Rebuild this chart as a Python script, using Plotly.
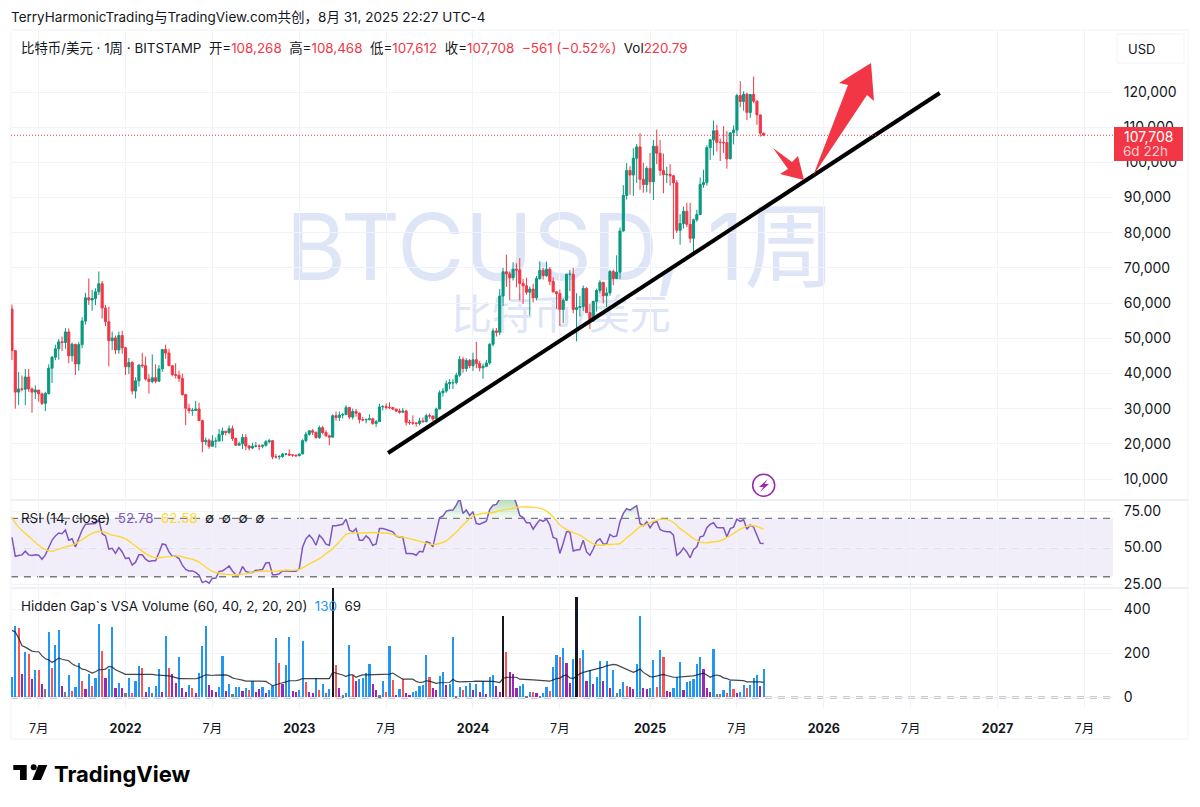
import numpy as np
import pandas as pd
import plotly.graph_objects as go

# weekly bars, prices in thousands of USD
dates = pd.date_range("2021-05-10", periods=226, freq="7D")

opens = [
    58.3, 46.5, 34.7, 35.6, 35.5, 39.0, 35.6, 34.7, 35.3, 34.2, 31.5, 34.3, 41.5, 44.6, 47.0, 49.0, 48.8,
    51.8, 45.0, 48.3, 42.7, 48.2, 54.9, 61.5, 60.9, 61.3, 63.2, 65.5, 58.6, 54.7, 49.3, 50.1, 46.7, 50.8,
    47.3, 41.9, 43.1, 35.0, 37.9, 42.4, 42.2, 38.4, 37.7, 38.8, 37.8, 41.3, 46.8, 45.8, 42.2, 39.7, 39.5,
    38.6, 34.0, 30.1, 29.4, 29.5, 29.9, 26.6, 20.6, 21.0, 19.3, 20.8, 20.8, 22.6, 23.6, 23.2, 24.3, 21.5,
    19.6, 20.0, 21.8, 19.4, 18.8, 19.3, 19.4, 19.3, 19.6, 20.6, 20.9, 16.3, 16.3, 16.4, 17.1, 17.1, 16.8, 16.8,
    16.6, 17.1, 20.9, 22.7, 23.7, 23.3, 21.8, 24.6, 23.2, 22.3, 21.9, 28.0, 27.5, 28.2, 28.3, 30.3, 27.6,
    29.2, 28.7, 26.9, 26.8, 26.9, 27.1, 25.8, 26.3, 30.5, 30.6, 30.3, 30.3, 29.9, 29.3, 29.0, 29.3, 26.1,
    26.0, 25.9, 25.8, 26.5, 26.3, 28.0, 27.9, 27.1, 29.9, 34.5, 35.0, 37.1, 37.4, 37.4, 39.5, 44.0, 41.4, 43.7,
    42.2, 43.9, 42.8, 41.6, 42.0, 43.0, 48.3, 52.1, 51.7, 62.0, 68.9, 68.3, 67.2, 69.6, 69.4, 65.6, 64.9,
    63.1, 64.0, 61.5, 67.0, 69.3, 67.8, 69.6, 66.2, 63.2, 62.7, 58.2, 60.8, 68.2, 68.2, 58.2, 58.7, 59.0,
    64.2, 57.3, 54.9, 60.5, 63.6, 65.9, 62.1, 62.9, 69.0, 67.0, 68.8, 80.5, 90.6, 97.7, 96.4, 101.2, 104.4,
    95.2, 93.7,
    98.3, 94.5, 104.6, 102.6, 97.7, 96.5, 96.6, 96.2, 94.2, 80.7, 82.6, 86.1, 82.4, 78.4, 83.7, 85.2, 93.7,
    94.3, 104.2, 106.4, 109.0, 105.7, 105.7, 105.6, 101.0, 108.4, 109.2, 119.0, 117.3, 119.4, 114.2, 119.3,
    117.4, 113.5, 108.268,
]
highs = [
    59.6, 46.6, 40.4, 39.4, 41.3, 41.3, 36.0, 36.6, 35.1, 34.6, 34.8, 42.6, 45.0, 48.2, 49.8, 50.5, 52.9,
    52.8, 48.8, 48.4, 49.0, 56.0, 62.9, 67.0, 63.7, 64.2, 69.0, 66.3, 59.5, 59.0, 51.9, 50.8, 51.9, 52.1,
    47.6, 44.4, 43.5, 38.9, 42.6, 45.9, 44.8, 39.8, 45.4, 42.6, 42.4, 47.0, 48.2, 47.0, 42.4, 42.9, 40.8,
    40.0, 34.2, 31.4, 30.2, 32.2, 31.7, 26.9, 21.8, 21.5, 22.5, 21.8, 24.2, 24.6, 23.6, 25.2, 25.2, 21.8,
    20.6, 22.8, 22.8, 19.7, 20.3, 20.5, 19.9, 19.7, 21.1, 21.4, 21.0, 17.1, 16.8, 17.4, 17.4, 18.4, 17.0, 16.9,
    17.2, 21.3, 23.4, 23.9, 24.2, 23.4, 25.2, 25.1, 23.9, 22.6, 28.4, 29.2, 29.2, 28.8, 31.0, 30.5, 30.0,
    29.9, 28.9, 27.6, 27.2, 28.4, 27.4, 26.8, 31.4, 31.0, 31.5, 31.8, 30.4, 29.9, 30.0, 30.2, 29.7, 26.8,
    28.1, 26.2, 27.4, 27.5, 28.6, 28.6, 28.0, 30.3, 35.2, 35.9, 38.0, 38.4, 38.4, 40.2, 45.0, 44.7, 44.3, 44.1,
    45.9, 49.0, 43.6, 42.8, 43.8, 48.6, 52.8, 52.9, 64.0, 70.0, 73.8, 68.9, 71.6, 71.3, 72.8, 66.9, 67.2,
    64.7, 65.5, 67.7, 71.9, 70.0, 71.8, 70.2, 67.3, 63.4, 63.8, 61.3, 68.3, 69.4, 70.0, 62.8, 62.0, 65.0,
    64.5, 59.8, 60.6, 64.1, 66.5, 66.0, 64.5, 69.4, 69.5, 73.6, 81.5, 93.5, 99.8, 98.9, 104.0, 105.2, 108.3,
    99.9, 98.9,
    102.7, 106.4, 109.3, 106.4, 102.5, 98.8, 99.5, 96.5, 95.0, 85.3, 87.4, 88.5, 88.5, 84.0, 86.5, 95.7, 97.9,
    104.9, 106.7, 111.9, 110.7, 106.8, 110.3, 108.9, 108.5, 110.5, 119.5, 123.1, 120.2, 119.8, 119.3, 124.4,
    117.6, 113.5, 108.468,
]
lows = [
    43.8, 30.0, 31.0, 34.9, 31.0, 34.8, 28.8, 32.7, 32.0, 31.0, 29.3, 34.0, 37.3, 43.8, 43.9, 46.4, 47.0,
    42.9, 43.4, 39.6, 40.8, 47.2, 53.9, 59.5, 57.8, 59.4, 62.3, 55.6, 53.5, 42.0, 46.7, 45.5, 45.6, 45.6,
    39.6, 39.8, 34.0, 32.9, 36.3, 41.6, 38.0, 34.3, 37.2, 37.2, 37.6, 40.5, 44.2, 42.1, 39.2, 38.6, 37.6,
    33.7, 25.3, 28.6, 28.0, 29.3, 26.7, 17.6, 19.6, 18.6, 19.3, 18.9, 20.7, 20.7, 22.4, 22.7, 20.8, 19.5,
    19.5, 18.5, 18.2, 18.1, 18.5, 19.0, 18.2, 18.7, 19.2, 20.1, 15.6, 15.8, 15.5, 16.0, 16.7, 16.5, 16.3, 16.3,
    16.5, 17.1, 20.4, 22.3, 22.5, 21.4, 21.4, 22.7, 21.9, 19.6, 21.8, 26.6, 26.5, 27.2, 28.2, 27.1, 26.9,
    27.7, 25.8, 26.4, 25.8, 26.6, 25.4, 24.8, 26.3, 29.5, 29.7, 29.9, 29.6, 29.0, 28.6, 28.7, 25.2, 25.4,
    25.4, 24.9, 25.2, 26.0, 26.1, 27.2, 26.5, 27.0, 29.8, 33.4, 34.5, 35.5, 35.6, 36.9, 39.0, 40.2, 40.5, 41.5,
    40.7, 41.5, 40.6, 38.5, 41.8, 42.5, 47.7, 50.5, 50.9, 59.2, 64.6, 60.8, 66.4, 64.5, 60.7, 59.7, 62.4,
    56.5, 60.2, 60.8, 66.6, 66.7, 67.5, 65.1, 63.0, 58.4, 53.5, 54.3, 60.7, 63.4, 57.1, 49.1, 56.2, 57.8,
    57.2, 52.6, 54.7, 57.6, 62.7, 59.9, 58.9, 62.1, 65.1, 66.8, 66.8, 80.3, 89.4, 90.8, 90.5, 94.2, 92.2,
    91.4, 91.5,
    91.2, 89.3, 99.5, 96.2, 91.2, 94.1, 93.4, 78.2, 80.0, 76.6, 81.2, 81.6, 77.1, 74.5, 83.1, 85.0, 92.8,
    93.4, 100.7, 102.0, 103.1, 100.4, 102.7, 98.2, 100.9, 105.1, 107.5, 115.7, 114.7, 112.0, 112.7, 116.8,
    110.7, 107.3, 107.612,
]
closes = [
    46.5, 34.7, 35.6, 35.5, 39.0, 35.6, 34.7, 35.3, 34.2, 31.5, 34.3, 41.5, 44.6, 47.0, 49.0, 48.8, 51.8,
    45.0, 48.3, 42.7, 48.2, 54.9, 61.5, 60.9, 61.3, 63.2, 65.5, 58.6, 54.7, 49.3, 50.1, 46.7, 50.8, 47.3,
    41.9, 43.1, 35.0, 37.9, 42.4, 42.2, 38.4, 37.7, 38.8, 37.8, 41.3, 46.8, 45.8, 42.2, 39.7, 39.5, 38.6,
    34.0, 30.1, 29.4, 29.5, 29.9, 26.6, 20.6, 21.0, 19.3, 20.8, 20.8, 22.6, 23.6, 23.2, 24.3, 21.5, 19.6,
    20.0, 21.8, 19.4, 18.8, 19.3, 19.4, 19.3, 19.6, 20.6, 20.9, 16.3, 16.3, 16.4, 17.1, 17.1, 16.8, 16.8, 16.6,
    17.1, 20.9, 22.7, 23.7, 23.3, 21.8, 24.6, 23.2, 22.3, 21.9, 28.0, 27.5, 28.2, 28.3, 30.3, 27.6, 29.2,
    28.7, 26.9, 26.8, 26.9, 27.1, 25.8, 26.3, 30.5, 30.6, 30.3, 30.3, 29.9, 29.3, 29.0, 29.3, 26.1, 26.0,
    25.9, 25.8, 26.5, 26.3, 28.0, 27.9, 27.1, 29.9, 34.5, 35.0, 37.1, 37.4, 37.4, 39.5, 44.0, 41.4, 43.7, 42.2,
    43.9, 42.8, 41.6, 42.0, 43.0, 48.3, 52.1, 51.7, 62.0, 68.9, 68.3, 67.2, 69.6, 69.4, 65.6, 64.9, 63.1,
    64.0, 61.5, 67.0, 69.3, 67.8, 69.6, 66.2, 63.2, 62.7, 58.2, 60.8, 68.2, 68.2, 58.2, 58.7, 59.0, 64.2,
    57.3, 54.9, 60.5, 63.6, 65.9, 62.1, 62.9, 69.0, 67.0, 68.8, 80.5, 90.6, 97.7, 96.4, 101.2, 104.4, 95.2,
    93.7, 98.3,
    94.5, 104.6, 102.6, 97.7, 96.5, 96.6, 96.2, 94.2, 80.7, 82.6, 86.1, 82.4, 78.4, 83.7, 85.2, 93.7, 94.3,
    104.2, 106.4, 109.0, 105.7, 105.7, 105.6, 101.0, 108.4, 109.2, 119.0, 117.3, 119.4, 114.2, 119.3, 117.4,
    113.5, 108.3, 107.708,
]

rsi = [
    57, 44, 44.5, 45, 47.5, 45, 44.5, 45, 44.7, 42, 45, 50.5, 55, 58, 60, 59.5, 62, 55, 56, 50.5, 57, 62, 66, 66, 66,
    66.5, 69, 59.5, 58, 49, 49.5, 46, 50, 47, 42.5, 43, 38, 40, 45, 45, 42, 40.5, 41, 41, 46.5, 52.5, 52, 47, 44,
    44, 42.5, 38, 35, 34, 34, 33, 31, 26, 27, 25.6, 29, 29, 33.7, 34, 35.5, 37.4, 34, 31.4, 31.6, 37, 33.7, 33, 33,
    34.4, 34.6, 35, 39.4, 39.7, 31.4, 31.4, 32, 34, 34, 33.7, 33.7, 33.7, 35.5, 50.5, 56, 58.5, 56, 51.6, 58.5, 56,
    52.3, 51.6, 65, 65, 65.4, 66, 69.5, 62, 60.8, 63, 55, 55, 58, 56, 51.6, 52.5, 63, 63, 62.4, 61.7, 60.8, 58, 57,
    57, 46, 45.9, 45.7, 44.7, 47.5, 47, 54, 53.4, 50.5, 60.8, 70.5, 71.6, 75, 75.5, 75.7, 79, 84, 73.4, 75.7, 72,
    74.6, 66.5, 66, 67, 68, 76, 79, 79.6, 84, 87, 88, 87, 86, 80, 72, 70.5, 67, 67, 62.6, 66, 69, 68, 69.5, 65.4,
    57, 56, 46, 53, 60.8, 60.8, 47.7, 48.4, 48.6, 55, 47, 44.7, 49, 54.4, 56, 52.5, 52.5, 59, 57.4, 58, 67.7, 73.4,
    76.7, 75.7, 77, 78.7, 66.5, 65, 67.7, 63.6, 67, 68, 62.4, 61.3, 60.8, 60.8, 58.5, 44.7, 46.5, 49.8, 47, 43,
    48.6, 50.5, 57.4, 58, 63.6, 65.9, 67, 63.8, 63.6, 63.6, 57.4, 63, 64, 69.5, 68, 69, 62.6, 65.4, 64, 59, 53, 52.78,
]
# read every second bar, last value from the legend
rsi_ma = [
    70.5, 64, 59.7, 55.7, 51.6, 48.6, 47.5, 49, 50.5, 51.6, 54, 57, 59.7, 61, 60.3, 58.5, 57.6, 56, 52.8, 49.3,
    45.9, 43.6, 43, 43.6, 44, 44.3, 43, 42, 40, 36.7, 33.7, 32.5, 31.6, 31.4, 31.6, 32, 33.2, 33.7, 34, 33.8, 34,
    34.6, 34.4, 35, 37.4, 40, 42.4, 45.9, 49.3, 54, 59, 60, 60, 60, 60.3, 60, 60, 59, 57.4,
    56.7, 55.5, 54.4, 53, 52, 52.8, 54.6, 58.5, 63, 67.7, 71.6, 73, 73.7, 74, 75.3, 76.2, 76.9, 77.8, 77.8, 77.6,
    77, 75, 71, 65.4, 62.4, 60.3, 58.5, 55.5, 52.5, 51.6, 52, 52.3, 52.8, 56.7, 60.3, 64.3, 65.9, 68, 69.3, 69.3,
    67.2, 63, 59.7, 56.2, 53.9, 53.2, 54, 54.6, 56.9, 59.7, 62.6, 64.7, 65, 63.6, 62.58,
]

volumes = [
    95, 326, 315, 106, 209, 198, 85, 126, 126, 59, 38, 298, 136, 238, 309, 53, 24, 100, 30, 47, 159, 77, 38, 108, 50,
    88, 332, 210, 89, 130, 320, 44, 67, 42, 20, 89, 21, 76, 144, 133, 26, 47, 18, 53, 130, 26, 280, 135, 106, 65, 185,
    42, 27, 55, 41, 21, 112, 235, 324, 58, 35, 27, 47, 188, 30, 61, 17, 48, 48, 30, 42, 32, 76, 27, 38, 47, 20, 32,
    50, 271, 158, 59, 148, 276, 30, 24, 32, 256, 71, 23, 21, 89, 32, 62, 18, 38, 520, 147, 42, 9, 18, 239, 103, 77,
    83, 88, 110, 153, 62, 33, 9, 77, 24, 232, 79, 12, 40,
    83, 20, 11, 24, 30, 53, 56, 194, 92, 41, 33, 97, 115, 56, 62, 274, 6, 48, 35, 50, 68, 35, 59, 26, 73, 17, 92, 100,
    53, 24, 371, 208, 118, 105, 44, 50, 62, 6, 27, 24, 18, 6, 21, 47, 30, 138, 194, 185, 224, 159, 67, 176, 456, 179,
    217, 77, 126, 62, 91, 164, 73, 167, 41, 124, 21, 39, 70, 53, 47, 39, 150, 370, 42, 38, 44, 171, 48, 217, 182, 30,
    24, 42, 92, 162, 35, 70, 76, 86, 152, 185, 129, 44, 27, 220, 14, 14, 32, 21, 77, 38, 21, 26, 56, 45, 58, 88, 103,
    50, 130,
]
# b blue, r red, p purple, g gray, k black, ten bars per chunk
volume_kinds = (
    "bbrpbrpbrp" "gbrbbpgbrb" "brpbrbbrpb" "bpbpgbrbbr" "pbgbbpbrpp" "bppbrpbbbp" "ppbbpbgbbp" "brbppbpbbb"
    "rpbbppbbrp" "pbrbgbkrpg" "bbrpbbbbpp" "gbrbrpbrpp" "bbbbbrppbb" "pbbgbrbbpb" "pbpbbppkrp" "ppbbgbrpgb"
    "brbbrbppbk" "rbpbpbbpbp" "bgbbrppbbp" "pbbrbrppbb" "bpbbbbbppp" "bggbrbrpbb" "rbbbpb"
)
volume_ma = [
    305, 298, 270, 235, 229, 220, 211, 208, 208, 189, 176, 171, 159, 168, 179, 174, 170, 167, 153, 144, 141, 129, 126,
    120, 111, 117, 126, 126, 129, 141, 138, 126, 118, 111, 105, 105, 105, 108, 108, 108, 106, 106, 105, 103, 102, 102,
    100, 98, 95, 91, 86, 86, 85, 85, 85, 85, 89, 95, 103, 102, 100, 102, 102, 102, 103, 98, 89, 85, 83, 79, 74, 73, 74,
    74, 74, 74, 73, 64, 53, 58, 64, 67, 71, 76, 76, 76, 80, 86, 86, 86, 86, 86, 86, 86, 86, 86, 115, 111, 106, 102, 95,
    103, 103, 92, 98, 103, 103, 103, 103, 103, 103, 103, 103, 106, 111, 103, 92,
    83, 83, 83, 83, 73, 68, 70, 76, 74, 68, 64, 67, 67, 68, 68, 83, 73, 71, 71, 70, 70, 73, 74, 74, 76, 76, 76, 73, 71,
    68, 86, 91, 92, 92, 92, 83, 83, 83, 82, 80, 79, 77, 76, 76, 74, 80, 86, 88, 98, 103, 89, 86, 98, 108, 114, 118, 121,
    124, 129, 133, 138, 144, 147, 150, 148, 141, 135, 129, 123, 114, 121, 129, 114, 103, 95, 94, 98, 100, 105, 100, 95,
    92, 92, 94, 95, 95, 97, 98, 103, 108, 111, 102, 92, 100, 102, 98, 89, 86, 79, 79, 79, 77, 77, 71, 71, 71, 73, 71, 69,
]

trend_dates = ["2023-07-07", "2026-09-05"]
trend_prices = [17390, 119720]

price_ticks = [10000 * i for i in range(1, 13)]
rsi_ticks = [25, 50, 75]
rsi_tick_labels = ["25.00", "50.00", "75.00"]
volume_ticks = [0, 200, 400]
x_ticks = ["2021-07-05", "2022-01-03", "2022-07-04", "2023-01-02", "2023-07-03", "2024-01-01", "2024-07-01",
           "2025-01-06", "2025-07-07", "2026-01-05", "2026-07-06", "2027-01-04", "2027-07-05"]
x_tick_labels = ["7月", "<b>2022</b>", "7月", "<b>2023</b>", "7月", "<b>2024</b>", "7月",
                 "<b>2025</b>", "7月", "<b>2026</b>", "7月", "<b>2027</b>", "7月"]

assert len(opens) == len(highs) == len(lows) == len(closes), (len(opens), len(highs), len(lows), len(closes))
assert len(rsi) == 226, len(rsi)
assert len(volumes) == len(volume_kinds) == 226, (len(volumes), len(volume_kinds))
assert len(volume_ma) == 226, len(volume_ma)

FONT = "Inter, 'Noto Sans CJK SC', sans-serif"
INK = "#131722"
GREEN = "#089981"
RED = "#F23645"
GRID = "#F0F3FA"
PURPLE = "#7E57C2"
YELLOW = "#FDD835"
KIND_COLORS = {"b": "#2196F3", "r": "#FF5252", "p": "#9C27B0", "g": "#787B86", "k": "#131722"}
GAP = "\u00a0\u00a0"


def px(x):
    return x / 1200


def py(y):
    return 1 - y / 807


x_range = ["2021-05-08", "2027-09-03"]
week_ms = 7 * 24 * 3600 * 1000
opens, highs, lows, closes = [np.array(a) * 1000 for a in (opens, highs, lows, closes)]
last_close = closes[-1]
rsi = np.array(rsi, dtype=float)

fig = go.Figure()

# first subplot only holds the watermark, so everything else is drawn over it
fig.add_trace(go.Scatter(
    x=[0.499, 0.499], y=[0.517, 0.385], mode="text", text=["BTCUSD, 1周", "比特币/美元"],
    textfont=dict(size=[92, 41], color="#DEE5F7", family=FONT),
    xaxis="x", yaxis="y", hoverinfo="skip",
))
fig.add_trace(go.Candlestick(
    x=dates, open=opens, high=highs, low=lows, close=closes, xaxis="x2", yaxis="y2",
    increasing=dict(line=dict(color=GREEN, width=1), fillcolor=GREEN),
    decreasing=dict(line=dict(color=RED, width=1), fillcolor=RED),
    whiskerwidth=0,
))
fig.add_trace(go.Scatter(
    x=trend_dates, y=trend_prices, mode="lines", line=dict(color="#000000", width=4),
    xaxis="x2", yaxis="y2",
))

# rsi panel
fig.add_trace(go.Scatter(
    x=dates, y=np.full(len(rsi), 70.0), mode="lines", line=dict(width=0),
    xaxis="x3", yaxis="y3", hoverinfo="skip",
))
fig.add_trace(go.Scatter(
    x=dates, y=np.maximum(rsi, 70), mode="lines", line=dict(width=0), fill="tonexty",
    fillgradient=dict(type="vertical", start=70, stop=83,
                      colorscale=[[0, "rgba(76,175,80,0.05)"], [1, "rgba(76,175,80,0.4)"]]),
    xaxis="x3", yaxis="y3", hoverinfo="skip",
))
fig.add_trace(go.Scatter(
    x=dates, y=rsi, mode="lines", line=dict(color=PURPLE, width=1.5), xaxis="x3", yaxis="y3",
))
fig.add_trace(go.Scatter(
    x=list(dates[::2]) + [dates[-1]], y=rsi_ma, mode="lines", line=dict(color=YELLOW, width=1.4, shape="spline"),
    xaxis="x3", yaxis="y3",
))

# volume panel
fig.add_trace(go.Bar(
    x=dates, y=volumes, width=0.65 * week_ms, marker=dict(color=[KIND_COLORS[k] for k in volume_kinds], line_width=0),
    xaxis="x4", yaxis="y4",
))
fig.add_trace(go.Scatter(
    x=dates, y=volume_ma, mode="lines", line=dict(color="rgba(19,23,34,0.8)", width=1.2), xaxis="x4", yaxis="y4",
))

x_common = dict(type="date", range=x_range, tickmode="array", tickvals=x_ticks, showgrid=True, gridcolor=GRID,
                gridwidth=1, zeroline=False, showline=False, domain=[px(11), px(1113)])
y_common = dict(side="right", showgrid=True, gridcolor=GRID, gridwidth=1, zeroline=False, showline=False,
                ticks="outside", ticklen=7, tickcolor="rgba(0,0,0,0)", tickfont=dict(size=14, color=INK, family=FONT))

fig.update_layout(
    width=1200, height=807, margin=dict(l=0, r=0, t=0, b=0, autoexpand=False), paper_bgcolor="white",
    plot_bgcolor="rgba(0,0,0,0)",
    showlegend=False, hovermode=False, bargap=0, boxgap=0.1, dragmode=False, font=dict(family=FONT, color=INK),
    xaxis=dict(domain=[px(11), px(1113)], range=[0, 1], visible=False),
    yaxis=dict(domain=[py(500), py(30)], range=[0, 1], visible=False, anchor="x"),
    xaxis2=dict(x_common, anchor="y2", showticklabels=False, ticks="", rangeslider=dict(visible=False)),
    yaxis2=dict(y_common, anchor="x2", domain=[py(500), py(30)], range=[4031, 137630], tickvals=price_ticks,
                tickformat=","),
    xaxis3=dict(x_common, anchor="y3", showticklabels=False, ticks="", matches="x2"),
    yaxis3=dict(y_common, anchor="x3", domain=[py(588), py(500)], range=[22.3, 82.6], tickvals=rsi_ticks,
                ticktext=rsi_tick_labels),
    xaxis4=dict(x_common, anchor="y4", matches="x2", ticktext=x_tick_labels, ticks="outside", ticklen=9,
                tickcolor="rgba(0,0,0,0)", tickfont=dict(size=12.5, color=INK, family=FONT)),
    yaxis4=dict(y_common, anchor="x4", domain=[py(708), py(588)], range=[-48, 498], tickvals=volume_ticks),
)

# rsi band and levels
fig.add_shape(type="rect", xref="x3 domain", yref="y3", x0=0, x1=1, y0=30, y1=70, layer="below",
              fillcolor="rgba(126,87,194,0.1)", line_width=0)
for level, alpha in ((70, 1), (50, 0.5), (30, 1)):
    fig.add_shape(type="line", xref="x3 domain", yref="y3", x0=0, x1=1, y0=level, y1=level, layer="below",
                  line=dict(color="#787B86", width=1.3, dash="7px,6px"), opacity=alpha)
fig.add_shape(type="line", xref="x4 domain", yref="y4", x0=0, x1=1, y0=0, y1=0, layer="below",
              line=dict(color="#9598A1", width=2, dash="7px,6px"))
fig.add_shape(type="line", xref="x2 domain", yref="y2", x0=0, x1=1, y0=last_close, y1=last_close,
              line=dict(color=RED, width=1, dash="1px,2px"))

# frame and panel separators
fig.add_shape(type="rect", xref="paper", yref="paper", x0=px(11), x1=px(1188), y0=py(739), y1=py(30), layer="below",
              line=dict(color=GRID, width=1))
for sep in (500, 588):
    fig.add_shape(type="line", xref="paper", yref="paper", x0=px(11), x1=px(1188), y0=py(sep), y1=py(sep),
                  layer="below", line=dict(color="#EEF0F5", width=2))


def poly(points, **kw):
    path = "M " + " L ".join(f"{px(x)},{py(y)}" for x, y in points) + " Z"
    fig.add_shape(type="path", xref="paper", yref="paper", path=path, **kw)


# hand drawn arrows
poly([(813, 176), (848, 85), (839, 83), (871, 63), (874, 101), (867, 95)], fillcolor=RED, line_width=0)
poly([(773, 148), (792, 162), (798, 156), (804, 180), (780, 174), (788, 169)], fillcolor=RED, line_width=0)

# last price tag
fig.add_shape(type="rect", xref="paper", yref="paper", x0=px(1114), x1=px(1183), y0=py(161), y1=py(127),
              fillcolor=RED, line_width=0)

# USD button
fig.add_shape(type="rect", xref="paper", yref="paper", x0=px(1117), x1=px(1184), y0=py(63), y1=py(34),
              fillcolor="white", line=dict(color=GRID, width=1))

# lightning marker
fig.add_shape(type="circle", xref="paper", yref="paper", x0=px(752.7), x1=px(774.7), y0=py(496.3), y1=py(474.3),
              fillcolor="white", line=dict(color="#9C27B0", width=1.5))
poly([(768, 479), (759, 487), (763.5, 487), (760, 492), (769, 484), (764.5, 484)], fillcolor="#9C27B0", line_width=0)

# logo
poly([(13.3, 765), (26.7, 765), (26.7, 780), (20, 780), (20, 770), (13.3, 770)], fillcolor="#000000", line_width=0)
fig.add_shape(type="circle", xref="paper", yref="paper", x0=px(30.7), x1=px(36.7), y0=py(770.3), y1=py(764.3),
              fillcolor="#000000", line_width=0)
poly([(38.3, 765), (47.3, 765), (41, 780), (32.3, 780)], fillcolor="#000000", line_width=0)


def note(x, y, text, size=13.4, color=INK):
    fig.add_annotation(x=px(x), y=py(y), xref="paper", yref="paper", text=text, showarrow=False, xanchor="left",
                       yanchor="middle", align="left", font=dict(size=size, color=color, family=FONT),
                       xshift=0, borderpad=0, borderwidth=0)


def red(text):
    return f'<span style="color:{RED}">{text}</span>'


note(11, 17, "TerryHarmonicTrading与TradingView.com共创，8月 31, 2025 22:27 UTC-4", size=13.5)
note(21, 48, "比特币/美元 · 1周 · BITSTAMP" + GAP + "开=" + red("108,268") + GAP + "高=" + red("108,468") + GAP + "低="
     + red("107,612") + GAP + "收=" + red("107,708") + GAP + red("−561 (−0.52%)") + GAP + "Vol" + red("220.79"))
note(1128, 49, "USD", size=13)
note(1124, 136, "107,708", size=14, color="white")
note(1123, 151, "6d 22h", size=13.5, color="rgba(255,255,255,0.75)")
note(21, 518, f'RSI (14, close){GAP}<span style="color:{PURPLE}">52.78</span>{GAP}<span style="color:{YELLOW}">62.58</span>'
     f"{GAP}∅{GAP}∅{GAP}∅{GAP}∅")
note(21, 606, f'Hidden Gap`s VSA Volume (60, 40, 2, 20, 20){GAP}<span style="color:#2196F3">130</span>{GAP}69')
note(54, 774, "<b>TradingView</b>", size=22, color="#000000")

fig.write_html("out.html", config=dict(displayModeBar=False), post_script="document.body.style.margin = '0';")
